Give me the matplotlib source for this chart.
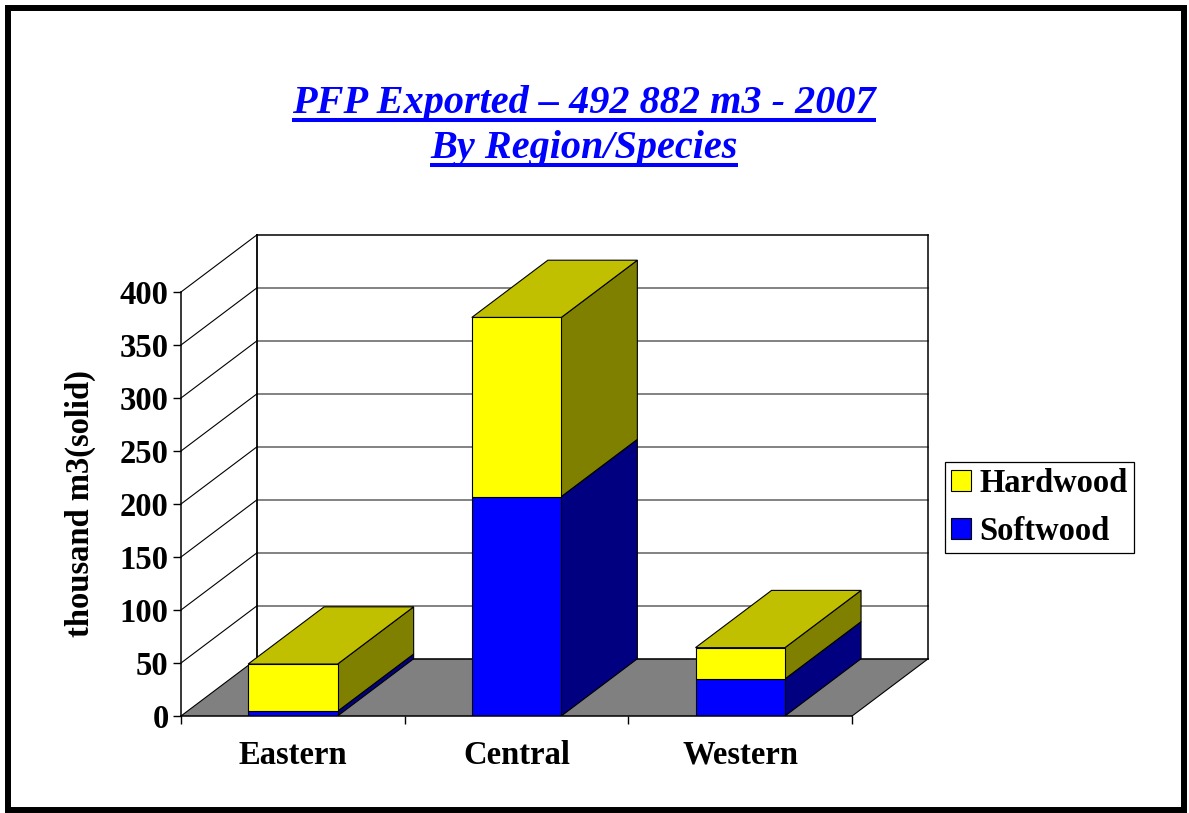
import matplotlib
matplotlib.use("Agg")
import matplotlib.pyplot as plt
from matplotlib.patches import Polygon, Patch, Rectangle
from matplotlib.lines import Line2D

# ---------------- data ----------------
regions = ["Eastern", "Central", "Western"]
softwood = [4.5, 207, 35]
hardwood = [44.5, 169, 29.5]
series_names = ["Softwood", "Hardwood"]
y_ticks = [0, 50, 100, 150, 200, 250, 300, 350, 400]
title_lines = ["PFP Exported \u2013 492 882 m3 - 2007", "By Region/Species"]
y_label = "thousand m3(solid)"

# ---------------- style ----------------
plt.rcParams["font.family"] = ["Liberation Serif", "DejaVu Serif"]
plt.rcParams["font.weight"] = "bold"
FS = 23.5
W, H = 1189, 813
front_cols = {"Softwood": "#0000FF", "Hardwood": "#FFFF00"}
side_cols = {"Softwood": "#000080", "Hardwood": "#808000"}
top_cols = {"Softwood": "#0000C0", "Hardwood": "#C0C000"}
DX, DY = 0.34, 54.0          # oblique depth offset (categories, value units)
BAR_W = 0.4
YMAX = 400

fig = plt.figure(figsize=(W / 100, H / 100), dpi=100)
fig.patch.set_facecolor("white")

# axes placed so that 0 -> px 716, category unit = 223.7 px, value unit = 1.06 px
cat_px, val_px = 223.7, 1.06
left_px, base_px = 181, 716
n = len(regions)
ax = fig.add_axes([left_px / W, (H - base_px) / H,
                   (n + DX) * cat_px / W, (YMAX + DY) * val_px / H])
ax.set_xlim(0, n + DX)
ax.set_ylim(0, YMAX + DY)
ax.patch.set_visible(False)

grid_col = "#606060"
# floor
ax.add_patch(Polygon([(0, 0), (n, 0), (n + DX, DY), (DX, DY)], closed=True,
                     facecolor="#808080", edgecolor="none", zorder=0.5))
ax.plot([n, n + DX], [0, DY], color="black", lw=0.8, zorder=0.7, clip_on=False)
# back wall gridlines and left wall diagonals
for v in y_ticks:
    ax.plot([DX, n + DX], [v + DY, v + DY],
            color=("black" if v in (0, YMAX) else grid_col),
            lw=1.1, zorder=0.8, clip_on=False)
    ax.plot([0, DX], [v, v + DY], color="black", lw=0.8, zorder=0.8, clip_on=False)
# back wall edges
ax.plot([DX, DX], [DY, YMAX + DY], color="black", lw=1.3, zorder=0.9, clip_on=False)
ax.plot([n + DX, n + DX], [DY, YMAX + DY], color="black", lw=1.1, zorder=0.9, clip_on=False)

# bars (front faces via ax.bar, depth faces from the same values)
xs = [i + 0.5 for i in range(n)]
bottoms = [0.0] * n
stack = [("Softwood", softwood), ("Hardwood", hardwood)]
for k, (name, vals) in enumerate(stack):
    ax.bar(xs, vals, width=BAR_W, bottom=bottoms, color=front_cols[name],
           edgecolor="black", linewidth=0.8, zorder=3)
    for i in range(n):
        b = bottoms[i]
        t = b + vals[i]
        x0 = xs[i] - BAR_W / 2
        x1 = xs[i] + BAR_W / 2
        ax.add_patch(Polygon([(x1, b), (x1 + DX, b + DY), (x1 + DX, t + DY), (x1, t)],
                             closed=True, facecolor=side_cols[name],
                             edgecolor="black", lw=0.8, zorder=2 + 0.1 * k))
        if k == len(stack) - 1:
            ax.add_patch(Polygon([(x0, t), (x1, t), (x1 + DX, t + DY), (x0 + DX, t + DY)],
                                 closed=True, facecolor=top_cols[name],
                                 edgecolor="black", lw=0.8, zorder=2.5))
    bottoms = [bottoms[i] + vals[i] for i in range(n)]

# axes spines / ticks
for s in ("top", "right"):
    ax.spines[s].set_visible(False)
ax.spines["left"].set_bounds(0, YMAX)
ax.spines["bottom"].set_bounds(0, n)
ax.spines["left"].set_linewidth(1.1)
ax.spines["bottom"].set_linewidth(1.1)
ax.spines["left"].set_zorder(4)
ax.spines["bottom"].set_zorder(4)
ax.set_yticks(y_ticks)
ax.set_yticklabels([str(v) for v in y_ticks], fontsize=FS, fontweight="bold")
ax.tick_params(axis="y", direction="out", length=6, width=1, pad=3)
ax.set_xticks(list(range(n + 1)))
ax.set_xticklabels([""] * (n + 1))
ax.set_xticks(xs, minor=True)
ax.set_xticklabels(regions, minor=True, fontsize=FS, fontweight="bold")
ax.tick_params(axis="x", which="major", direction="out", length=6, width=1)
ax.tick_params(axis="x", which="minor", length=0, pad=17)

ax.set_ylabel(y_label, fontsize=FS, fontweight="bold", va="center", ha="center")
ax.yaxis.set_label_coords((80 - left_px) / ((n + DX) * cat_px), 200 / (YMAX + DY))

# legend
handles = [Patch(facecolor=front_cols[nm], edgecolor="black", lw=0.8) for nm in ["Hardwood", "Softwood"]]
leg = ax.legend(handles, ["Hardwood", "Softwood"], loc="center",
                bbox_to_anchor=(1039.5 / W, 1 - 507.5 / H), bbox_transform=fig.transFigure,
                prop={"size": FS, "weight": "bold"}, frameon=True, fancybox=False,
                edgecolor="black", framealpha=1, handlelength=0.62, handleheight=0.62,
                handletextpad=0.25, borderpad=0.2, labelspacing=0.5, borderaxespad=0)
leg.get_frame().set_linewidth(0.9)

# title with underline
title_cx = 584
baselines = [112.7, 158]
texts = []
for line, bl in zip(title_lines, baselines):
    t = fig.text(title_cx / W, 1 - bl / H, line, ha="center", va="baseline",
                 fontsize=29, fontweight="bold", fontstyle="italic", color="#0000FF")
    texts.append((t, bl))
fig.canvas.draw()
r = fig.canvas.get_renderer()
for t, bl in texts:
    bb = t.get_window_extent(r)
    yy = 1 - (bl + 7) / H
    fig.add_artist(Line2D([bb.x0 / W, bb.x1 / W], [yy, yy], transform=fig.transFigure,
                          color="#0000FF", lw=2.9, solid_capstyle="butt"))

# outer border
fig.add_artist(Rectangle((8 / W, 1 - 810 / H), (1184 - 8) / W, (810 - 8) / H,
                         transform=fig.transFigure, fill=False, edgecolor="black", lw=4.3))

fig.savefig("out.png", dpi=100)
